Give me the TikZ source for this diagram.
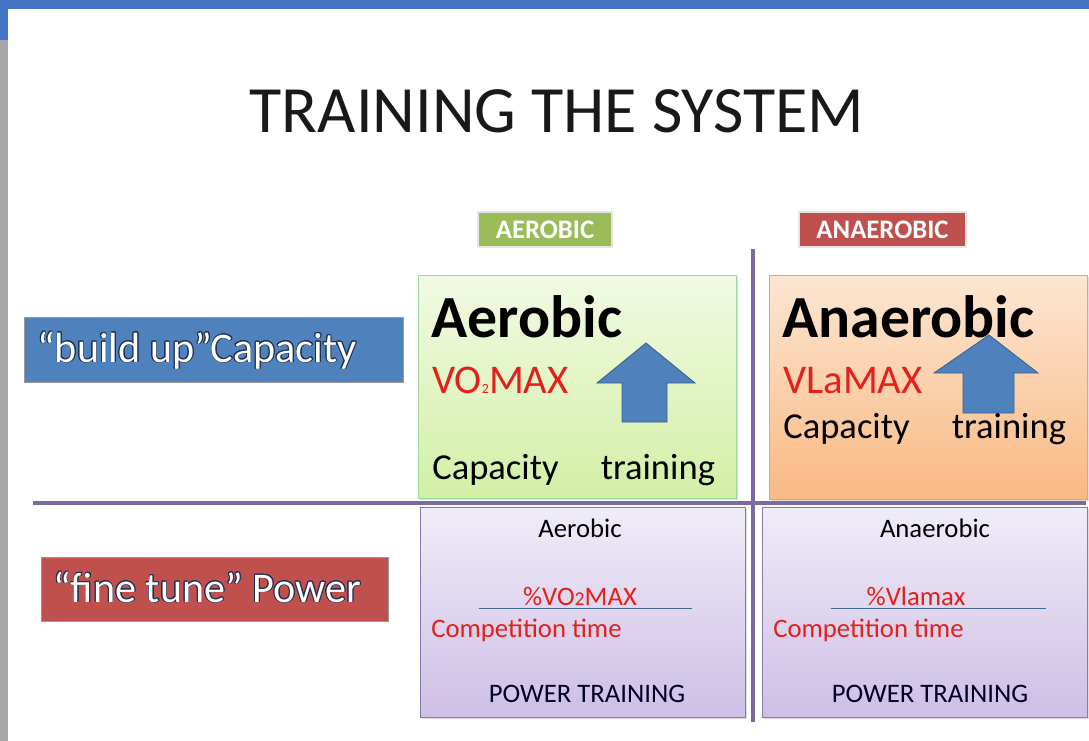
\documentclass[tikz,border=0pt]{standalone}
\usepackage{fontspec}
\setmainfont{Carlito}
\usepackage{contour}
\contourlength{0.5pt}
\usetikzlibrary{positioning,fit,shadows}

\definecolor{slideblue}{HTML}{4472C4}
\definecolor{stripgrey}{HTML}{A6A6A6}
\definecolor{capblue}{HTML}{4F81BD}
\definecolor{powred}{HTML}{C0504D}
\definecolor{tagred}{HTML}{C0504D}
\definecolor{taggreen}{HTML}{9BBB59}
\definecolor{textred}{HTML}{E3201B}
\definecolor{linepurple}{HTML}{7B6A9E}
\definecolor{arrowedge}{HTML}{3A6190}
\definecolor{navyshadow}{HTML}{1F3050}
\definecolor{greentop}{HTML}{F1FAE3}
\definecolor{greenbot}{HTML}{D3EFA6}
\definecolor{orangetop}{HTML}{FCE6D2}
\definecolor{orangebot}{HTML}{F9B983}
\definecolor{lavtop}{HTML}{F0ECF8}
\definecolor{lavbot}{HTML}{CDBFE6}

\newcommand{\smalltwo}[1]{{\fontsize{#1}{#1}\selectfont 2}}

\begin{document}
\begin{tikzpicture}[
    x=0.025cm, y=-0.025cm,
    tagbox/.style={
        draw=gray!20,
        line width=1.2pt,
        inner sep=0pt,
        drop shadow={opacity=0.25, shadow xshift=1pt, shadow yshift=-1pt}
        },
    rowlabel/.style={
        draw=black!40,
        line width=0.6pt,
        inner sep=0pt,
        drop shadow={opacity=0.2, shadow xshift=1pt, shadow yshift=-1pt}
        },
    greenbox/.style={
        draw=black!35!green!40,
        line width=0.6pt,
        inner sep=0pt,
        top color=greentop,
        bottom color=greenbot,
        drop shadow={opacity=0.25, shadow xshift=1.5pt, shadow yshift=-1.5pt}
        },
    orangebox/.style={
        draw=black!35!orange!50,
        line width=0.6pt,
        inner sep=0pt,
        top color=orangetop,
        bottom color=orangebot,
        drop shadow={opacity=0.25, shadow xshift=1.5pt, shadow yshift=-1.5pt}
        },
    purplebox/.style={
        draw=linepurple!90,
        line width=0.6pt,
        inner sep=0pt,
        top color=lavtop,
        bottom color=lavbot,
        drop shadow={opacity=0.25, shadow xshift=1.5pt, shadow yshift=-1.5pt}
        },
    divider/.style={
        draw=linepurple,
        line width=2.2pt
        },
    uparrow/.style={
        fill=capblue,
        draw=arrowedge,
        line width=0.6pt
        },
    txt/.style={inner sep=0pt, anchor=base west}
]

% slide frame
\useasboundingbox (0,0) rectangle (1089,741);
\fill[white] (0,0) rectangle (1089,741);
\fill[stripgrey] (0,0) rectangle (8,741);
\fill[slideblue] (0,0) rectangle (8,40);
\fill[slideblue] (0,0) rectangle (1089,9);

% title
\node[inner sep=0pt, anchor=base, text=black!90, font=\fontsize{47}{50}\selectfont] (title) at (557,133) {TRAINING THE SYSTEM};

% column tags
\node[tagbox, fill=taggreen, fit={(478,212)(612,247)}] (aerotag) {};
\node[inner sep=0pt, text=white, font=\bfseries\fontsize{19}{20}\selectfont] at (aerotag.center) {AEROBIC};
\node[tagbox, fill=tagred, fit={(799,212)(966,247)}] (anaerotag) {};
\node[inner sep=0pt, text=white, font=\bfseries\fontsize{19}{20}\selectfont] at (anaerotag.center) {ANAEROBIC};

% row labels
\node[rowlabel, fill=capblue, fit={(24,317)(403,382)}] (buildup) {};
\node[txt, text=white, font=\fontsize{30}{32}\selectfont] (buildtxt) at (37,362) {\contour{navyshadow}{“build up”Capacity}};
\node[rowlabel, fill=powred, fit={(41,557)(388,621)}] (finetune) {};
\node[txt, text=white, font=\fontsize{30}{32}\selectfont] (finetxt) at (53,602) {\contour{navyshadow}{“fine tune” Power}};

% dividers
\coordinate (hleft) at (33,503);
\coordinate (hright) at (1086,503);
\coordinate (vtop) at (753,249);
\coordinate (vbottom) at (753,722);
\draw[divider] (hleft) -- (hright);
\draw[divider] (vtop) -- (vbottom);

% capacity boxes
\node[greenbox, fit={(418,275)(736,498)}] (aerobox) {};
\node[orangebox, fit={(769,275)(1087,499)}] (anaerobox) {};

\node[txt, font=\bfseries\fontsize{42.5}{44}\selectfont] (aerohead) at (431,337) {Aerobic};
\node[txt, text=textred, font=\fontsize{29}{30}\selectfont] (vomax) at (432,393) {VO\smalltwo{10}MAX};
\node[txt, font=\fontsize{26}{28}\selectfont] (aerocap) at (432,479) {Capacity\hspace{30pt}training};
\fill[uparrow] (646,343) -- (695,383) -- (667,383) -- (667,422) -- (622,422) -- (622,383) -- (597,383) -- cycle;

\node[txt, font=\bfseries\fontsize{42.5}{44}\selectfont] (anaerohead) at (782,337) {Anaerobic};
\node[txt, text=textred, font=\fontsize{29}{30}\selectfont] (vlamax) at (783,393) {VLaMAX};
\node[txt, font=\fontsize{26}{28}\selectfont] (anaerocap) at (783,438) {Capacity\hspace{30pt}training};
\fill[uparrow] (989,335) -- (1038,373) -- (1014,373) -- (1014,413) -- (963,413) -- (963,373) -- (934,373) -- cycle;

% power boxes
\node[purplebox, fit={(420,507)(745,717)}] (aeropow) {};
\node[purplebox, fit={(762,507)(1087,717)}] (anaeropow) {};

\node[inner sep=0pt, anchor=base, font=\fontsize{19}{20}\selectfont] (aerosub) at (580,537) {Aerobic};
\node[inner sep=0pt, anchor=base, text=textred, font=\fontsize{19}{20}\selectfont] (vopct) at (580,605) {\%VO\smalltwo{14}MAX};
\coordinate (aerofrac1) at (479,608);
\coordinate (aerofrac2) at (692,608);
\draw[capblue!80!black, line width=0.6pt] (aerofrac1) -- (aerofrac2);
\node[txt, text=textred, font=\fontsize{19}{20}\selectfont] (aerotime) at (431,637) {Competition time};
\node[inner sep=0pt, anchor=base, text=black!85!blue, font=\fontsize{19}{20}\selectfont] (aeropt) at (587,702) {POWER TRAINING};

\node[inner sep=0pt, anchor=base, font=\fontsize{19}{20}\selectfont] (anaerosub) at (935,537) {Anaerobic};
\node[inner sep=0pt, anchor=base, text=textred, font=\fontsize{19}{20}\selectfont] (vlpct) at (916,605) {\%Vlamax};
\coordinate (anaerofrac1) at (831,608);
\coordinate (anaerofrac2) at (1046,608);
\draw[capblue!80!black, line width=0.6pt] (anaerofrac1) -- (anaerofrac2);
\node[txt, text=textred, font=\fontsize{19}{20}\selectfont] (anaerotime) at (773,637) {Competition time};
\node[inner sep=0pt, anchor=base, text=black!85!blue, font=\fontsize{19}{20}\selectfont] (anaeropt) at (930,702) {POWER TRAINING};

\end{tikzpicture}
\end{document}
